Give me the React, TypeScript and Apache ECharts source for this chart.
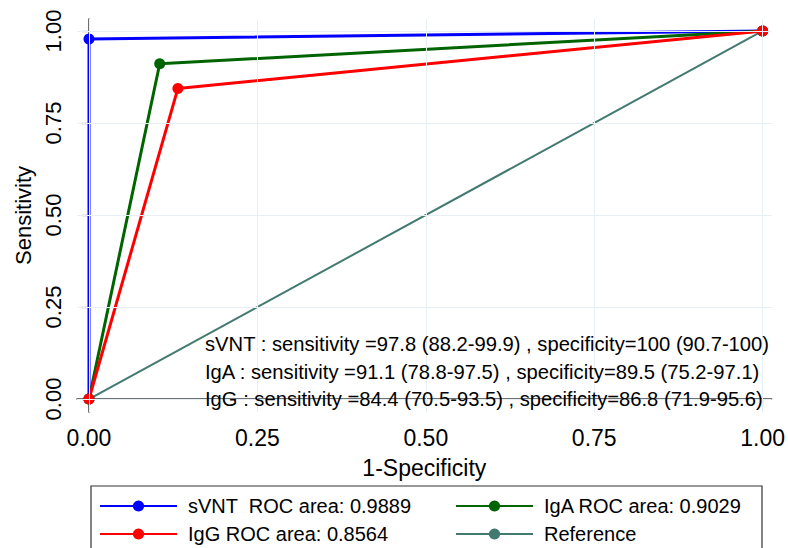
import React, { useEffect, useRef } from "react";
import * as echarts from "echarts";

const seriesNames = [
  "sVNT  ROC area: 0.9889",
  "IgA ROC area: 0.9029",
  "IgG ROC area: 0.8564",
  "Reference",
];
const seriesColors = ["#0000ff", "#006400", "#ff0000", "#427a70"];
const svntX = [0, 0, 1];
const svntY = [0, 0.978, 1];
const igaX = [0, 0.105, 1];
const igaY = [0, 0.911, 1];
const iggX = [0, 0.132, 1];
const iggY = [0, 0.844, 1];
const refX = [0, 1];
const refY = [0, 1];
const tickValues = [0, 0.25, 0.5, 0.75, 1];
const annotationLines = [
  "sVNT : sensitivity =97.8 (88.2-99.9) , specificity=100 (90.7-100)",
  "IgA : sensitivity =91.1 (78.8-97.5) , specificity=89.5 (75.2-97.1)",
  "IgG : sensitivity =84.4 (70.5-93.5) , specificity=86.8 (71.9-95.6)",
];

const FONT = "'Liberation Sans', Arial, Helvetica, sans-serif";

const zip = (xs: number[], ys: number[]) => xs.map((x, i) => [x, ys[i]]);

export default function App() {
  const ref = useRef<HTMLDivElement>(null);
  useEffect(() => {
    if (!ref.current) return;
    const chart = echarts.init(ref.current, null, { renderer: "svg" });
    const axisCommon = {
      type: "value" as const,
      nameLocation: "middle" as const,
      nameTextStyle: { fontSize: 23, color: "#000", fontFamily: FONT },
      axisLine: { show: true, lineStyle: { color: "#404040", width: 1.5 } },
      axisTick: {
        show: true,
        inside: false,
        length: 7,
        customValues: tickValues,
        lineStyle: { color: "#404040", width: 1.2 },
      },
      splitLine: { show: false },
    };
    const lineSeries = (idx: number, data: number[][], withSymbol: boolean) => ({
      type: "line" as const,
      name: seriesNames[idx],
      data,
      z: 3,
      symbol: withSymbol ? "circle" : "none",
      symbolSize: 11,
      showSymbol: withSymbol,
      lineStyle: { color: seriesColors[idx], width: withSymbol ? 3 : 2 },
      itemStyle: { color: seriesColors[idx] },
    });
    const legendAt = (idx: number, left: number, top: number) => ({
      data: [seriesNames[idx]],
      left,
      top,
      orient: "horizontal" as const,
      padding: 0,
      itemWidth: 77,
      itemHeight: 14,
      selectedMode: false,
      textStyle: {
        fontSize: 20,
        color: "#000",
        fontFamily: FONT,
        padding: [0, 0, 0, 6],
      },
    });
    chart.setOption({
      animation: false,
      backgroundColor: "#fff",
      grid: { left: 77, right: 16, top: 19, bottom: 136, containLabel: false },
      xAxis: {
        ...axisCommon,
        min: -0.0178,
        max: 1.0134,
        name: "1-Specificity",
        nameGap: 44,
        axisLabel: {
          customValues: tickValues,
          formatter: (v: number) => v.toFixed(2),
          fontSize: 23,
          color: "#000",
          fontFamily: FONT,
          margin: 14,
        },
      },
      yAxis: {
        ...axisCommon,
        min: -0.0353,
        max: 1.0326,
        name: "Sensitivity",
        nameGap: 41,
        nameTextStyle: { fontSize: 22, color: "#000", fontFamily: FONT },
        axisLabel: {
          customValues: tickValues,
          formatter: (v: number) => v.toFixed(2),
          rotate: 90,
          fontSize: 22,
          color: "#000",
          fontFamily: FONT,
          margin: 13,
        },
      },
      legend: [
        legendAt(0, 99, 496),
        legendAt(1, 455, 496),
        legendAt(2, 99, 524),
        legendAt(3, 455, 524),
      ],
      graphic: [
        {
          type: "rect",
          shape: { x: 91, y: 486, width: 671, height: 80 },
          style: { fill: "none", stroke: "#333", lineWidth: 1.2 },
          silent: true,
        },
        ...annotationLines.map((t, i) => ({
          type: "text",
          x: 205,
          y: 344 + i * 27.5,
          style: {
            text: t,
            fontSize: 20.2,
            fontFamily: FONT,
            fill: "#000",
            align: "left",
            verticalAlign: "middle",
          },
          silent: true,
          z: 10,
        })),
      ],
      series: [
        {
          type: "line",
          name: "grid",
          data: [],
          z: 1,
          silent: true,
          markLine: {
            silent: true,
            symbol: ["none", "none"],
            label: { show: false },
            lineStyle: { color: "#e6eff3", width: 1, type: "solid" },
            data: [
              ...tickValues.map((v) => ({ yAxis: v })),
              ...tickValues.map((v) => ({ xAxis: v })),
            ],
          },
        },
        lineSeries(3, zip(refX, refY), false),
        lineSeries(0, zip(svntX, svntY), true),
        lineSeries(1, zip(igaX, igaY), true),
        lineSeries(2, zip(iggX, iggY), true),
      ],
    });
    return () => chart.dispose();
  }, []);
  return <div ref={ref} style={{ width: 788, height: 548, position: "absolute", left: 0, top: 0 }} />;
}
